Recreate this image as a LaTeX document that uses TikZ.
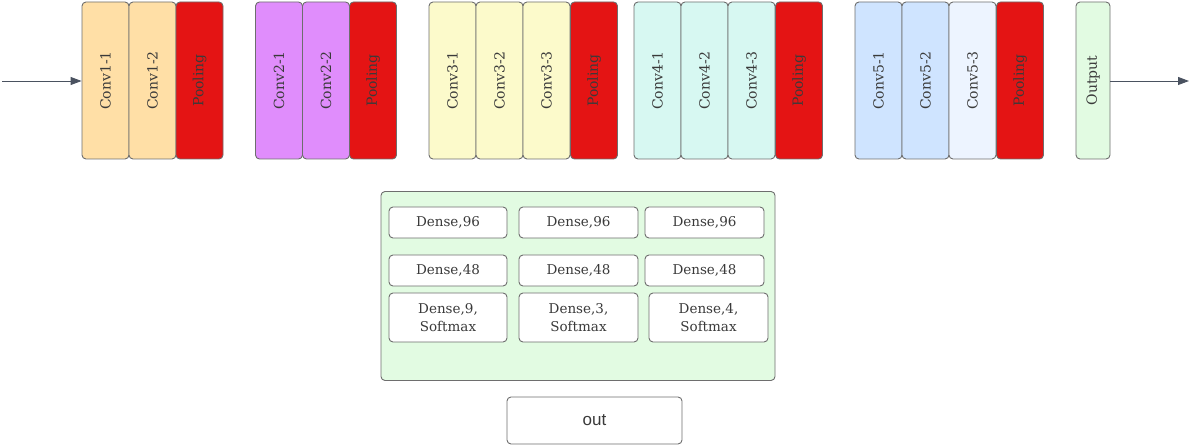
\documentclass[tikz,border=0pt]{standalone}
\usepackage{fontspec}
\setmainfont{DejaVu Serif}
\newfontfamily\outfont{Liberation Sans}
\usetikzlibrary{arrows.meta}
\definecolor{cA}{HTML}{FFDFA6}
\definecolor{cB}{HTML}{E08DFC}
\definecolor{cP}{HTML}{E41414}
\definecolor{cC}{HTML}{FCFACB}
\definecolor{cD}{HTML}{D7F8F2}
\definecolor{cE}{HTML}{CFE4FF}
\definecolor{cF}{HTML}{EDF4FF}
\definecolor{cG}{HTML}{E2FBE2}
\definecolor{bd}{HTML}{6E6E6E}
\definecolor{tx}{HTML}{3A3A3A}
\definecolor{ar}{HTML}{4A5260}
\tikzset{
  layer/.style={draw=bd, line width=0.9pt, rounded corners=4pt, minimum width=47pt, minimum height=157pt, inner sep=0pt, text=tx, font=\fontsize{14}{16}\selectfont},
  dense/.style={draw=bd, line width=0.9pt, rounded corners=4pt, fill=white, inner sep=0pt, text=tx, align=center, font=\fontsize{13.5}{18.5}\selectfont},
  arr/.style={draw=ar, line width=0.9pt, -{Triangle[length=11pt,width=8pt]}},
}
\begin{document}
\begin{tikzpicture}[x=1pt,y=-1pt]
\useasboundingbox (0,0) rectangle (1189,446);
% block 1
\node[layer, fill=cA] (c11) at (105.5,80.5) {\rotatebox{90}{Conv1-1}};
\node[layer, fill=cA] (c12) at (152.5,80.5) {\rotatebox{90}{Conv1-2}};
\node[layer, fill=cP] (p1) at (199.5,80.5) {\rotatebox{90}{Pooling}};
% block 2
\node[layer, fill=cB] (c21) at (279,80.5) {\rotatebox{90}{Conv2-1}};
\node[layer, fill=cB] (c22) at (326,80.5) {\rotatebox{90}{Conv2-2}};
\node[layer, fill=cP] (p2) at (373,80.5) {\rotatebox{90}{Pooling}};
% block 3
\node[layer, fill=cC] (c31) at (452.5,80.5) {\rotatebox{90}{Conv3-1}};
\node[layer, fill=cC] (c32) at (499.5,80.5) {\rotatebox{90}{Conv3-2}};
\node[layer, fill=cC] (c33) at (546.5,80.5) {\rotatebox{90}{Conv3-3}};
\node[layer, fill=cP] (p3) at (594,80.5) {\rotatebox{90}{Pooling}};
% block 4
\node[layer, fill=cD] (c41) at (657.5,80.5) {\rotatebox{90}{Conv4-1}};
\node[layer, fill=cD] (c42) at (704.5,80.5) {\rotatebox{90}{Conv4-2}};
\node[layer, fill=cD] (c43) at (751.5,80.5) {\rotatebox{90}{Conv4-3}};
\node[layer, fill=cP] (p4) at (799,80.5) {\rotatebox{90}{Pooling}};
% block 5
\node[layer, fill=cE] (c51) at (878.5,80.5) {\rotatebox{90}{Conv5-1}};
\node[layer, fill=cE] (c52) at (925.5,80.5) {\rotatebox{90}{Conv5-2}};
\node[layer, fill=cF] (c53) at (972.5,80.5) {\rotatebox{90}{Conv5-3}};
\node[layer, fill=cP] (p5) at (1020,80.5) {\rotatebox{90}{Pooling}};
% output
\node[layer, fill=cG, minimum width=34pt] (outp) at (1093,80.5) {\rotatebox{90}{Output}};
% arrows
\coordinate (in) at (2,81);
\coordinate (fin) at (1189,81);
\draw[arr] (in) -- (c11.west |- in);
\draw[arr] (outp.east |- fin) -- (fin);
% dense container
\node[draw=bd, line width=0.9pt, rounded corners=4pt, fill=cG, minimum width=394pt, minimum height=189pt, inner sep=0pt] (box) at (578,286) {};
\node[dense, minimum width=118pt, minimum height=31pt] (d11) at (448,222.5) {Dense,96};
\node[dense, minimum width=119pt, minimum height=31pt] (d12) at (578.5,222.5) {Dense,96};
\node[dense, minimum width=119pt, minimum height=31pt] (d13) at (704.5,222.5) {Dense,96};
\node[dense, minimum width=118pt, minimum height=31pt] (d21) at (448,270.5) {Dense,48};
\node[dense, minimum width=119pt, minimum height=31pt] (d22) at (578.5,270.5) {Dense,48};
\node[dense, minimum width=119pt, minimum height=31pt] (d23) at (704.5,270.5) {Dense,48};
\node[dense, minimum width=118pt, minimum height=49pt] (d31) at (448,317.5) {Dense,9,\\Softmax};
\node[dense, minimum width=119pt, minimum height=49pt] (d32) at (578.5,317.5) {Dense,3,\\Softmax};
\node[dense, minimum width=119pt, minimum height=49pt] (d33) at (708.5,317.5) {Dense,4,\\Softmax};
% out
\node[draw=bd, line width=0.9pt, rounded corners=4pt, fill=white, minimum width=175pt, minimum height=47pt, inner sep=0pt, text=tx, font=\outfont\fontsize{17}{20}\selectfont] (o) at (594.5,420.5) {out};
\end{tikzpicture}
\end{document}
